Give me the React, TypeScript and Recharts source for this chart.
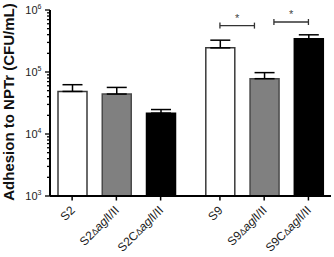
import { Bar, BarChart, Cell, ErrorBar, ReferenceLine, XAxis, YAxis } from "recharts";

const strains = ["S2", "S2ΔaglI/II", "S2CΔaglI/II", "S9", "S9ΔaglI/II", "S9CΔaglI/II"];
const strainGroup = [0, 0, 0, 1, 1, 1];
const adhesion = [48600, 44100, 21700, 245000, 78000, 343000];
const semUpper = [13800, 12300, 3100, 81000, 19700, 55000];
const barFills = ["#FFFFFF", "#808080", "#000000", "#FFFFFF", "#808080", "#000000"];
const barStrokes = ["#3A3A3A", "#4A4A4A", "#000000", "#3A3A3A", "#4A4A4A", "#000000"];
const decades = [1e3, 1e4, 1e5, 1e6];
// significance brackets, in bar-index units
const brackets = [
  { from: 3, to: 3.78, level: 560000 },
  { from: 4.22, to: 5, level: 640000 },
];

const GROUP_GAP = 0.34;
const font = "'Liberation Sans', Arial, sans-serif";
const C45 = Math.SQRT1_2;

const posOf = (i: number) => i + (i >= 3 ? GROUP_GAP : 0);

const data = strains.map((name, i) => ({
  name,
  pos: i + strainGroup[i] * GROUP_GAP,
  value: adhesion[i],
  err: [0, semUpper[i]],
}));

const yTicks: number[] = [];
decades.forEach((d, k) => {
  yTicks.push(d);
  if (k < decades.length - 1) for (let m = 2; m <= 9; m++) yTicks.push(d * m);
});

function YTick({ x, y, payload }: any) {
  const lv = Math.log10(payload.value);
  const exp = Math.round(lv);
  const major = Math.abs(lv - exp) < 1e-6;
  return (
    <g>
      <line x1={x - (major ? 5 : 3)} x2={x} y1={y} y2={y} stroke="#000" strokeWidth={1.3} />
      {major && (
        <text x={x - 8.5} y={y + 3.5} textAnchor="end" fontSize={11} fill="#222" fontFamily={font}>
          10<tspan fontSize={7} dy={-5}>{exp}</tspan>
        </text>
      )}
    </g>
  );
}

function XTick({ x, y, payload }: any) {
  const idx = data.findIndex((d) => Math.abs(d.pos - payload.value) < 1e-6);
  const label = strains[idx] ?? "";
  const [pre, rest] = label.split("Δ");
  const tx = Number(x) + 3.5;
  const ty = Number(y) + 15;
  return (
    <g>
      <line x1={x} x2={x} y1={y} y2={Number(y) + 4.5} stroke="#000" strokeWidth={1.5} />
      <text
        x={0}
        y={0}
        transform={`matrix(${C45},${-C45},${C45},${C45},${tx},${ty})`}
        textAnchor="end"
        fontSize={12}
        fill="#222"
        fontFamily={font}
      >
        <tspan>{pre}</tspan>
        {rest !== undefined && (
          <>
            <tspan fontSize={9}>Δ</tspan>
            <tspan fontStyle="italic">{rest.slice(0, 3)}</tspan>
            <tspan>{rest.slice(3)}</tspan>
          </>
        )}
      </text>
    </g>
  );
}

const renderBracket = (props: any) => {
  const { x1, y1, x2 } = props;
  return (
    <g>
      <line x1={x1} x2={x2} y1={y1} y2={y1} stroke="#333" strokeWidth={1.3} />
      <line x1={x1} x2={x1} y1={y1 - 3} y2={y1 + 3} stroke="#333" strokeWidth={1.3} />
      <line x1={x2} x2={x2} y1={y1 - 3} y2={y1 + 3} stroke="#333" strokeWidth={1.3} />
      <text x={(x1 + x2) / 2} y={y1 - 4} textAnchor="middle" fontSize={11} fill="#444" fontFamily={font}>
        *
      </text>
    </g>
  );
};

const renderYLabel = () => (
  <text
    transform="translate(14,102) rotate(-90)"
    textAnchor="middle"
    fontSize={15}
    fontWeight="bold"
    fill="#111"
    fontFamily={font}
  >
    Adhesion to NPTr (CFU/mL)
  </text>
);

export default function App() {
  return (
    <div style={{ position: "fixed", left: 0, top: 0, background: "#fff" }}>
      <BarChart width={334} height={257} data={data} margin={{ top: 10, right: 3, bottom: 0, left: 0 }}>
        <XAxis
          type="number"
          dataKey="pos"
          domain={[-0.5, 5.85]}
          ticks={data.map((d) => d.pos)}
          interval={0}
          allowDataOverflow
          height={61}
          tickSize={0}
          tickMargin={0}
          tickLine={false}
          tick={<XTick />}
          axisLine={{ stroke: "#000", strokeWidth: 2 }}
        />
        <YAxis
          type="number"
          scale="log"
          domain={[1000, 1000000]}
          allowDataOverflow
          ticks={yTicks}
          interval={0}
          width={50}
          tickSize={0}
          tickMargin={0}
          tickLine={false}
          tick={<YTick />}
          axisLine={{ stroke: "#000", strokeWidth: 2 }}
          label={renderYLabel}
        />
        <Bar dataKey="value" barSize={29} strokeWidth={1.5} isAnimationActive={false}>
          {data.map((d, i) => (
            <Cell key={d.name} fill={barFills[i]} stroke={barStrokes[i]} />
          ))}
          <ErrorBar dataKey="err" width={10} stroke="#000" strokeWidth={1.5} direction="y" />
        </Bar>
        {brackets.map((b) => (
          <ReferenceLine
            key={b.from}
            segment={[
              { x: posOf(b.from), y: b.level },
              { x: posOf(b.to), y: b.level },
            ]}
            ifOverflow="visible"
            shape={renderBracket}
          />
        ))}
      </BarChart>
    </div>
  );
}
